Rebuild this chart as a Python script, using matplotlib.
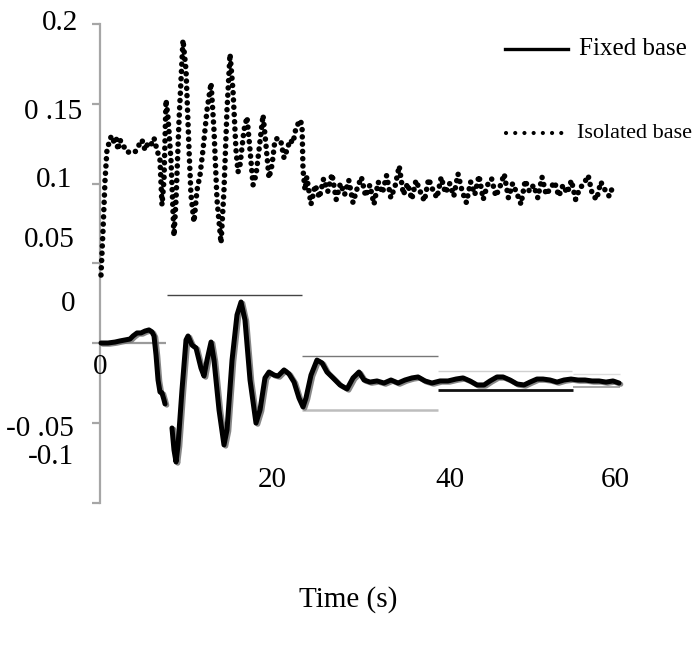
import numpy as np
import matplotlib
matplotlib.use("Agg")
import matplotlib.pyplot as plt
import matplotlib.patheffects as pe

# ---------------- data ----------------
# Isolated base (dotted) : time (s), value
iso_t_main = [0.0, 0.24, 0.48, 0.71, 0.95, 1.19, 1.43, 1.79, 2.02, 2.26, 2.62, 3.10, 3.57,
              4.05, 4.52, 4.88, 5.24, 5.60, 5.95, 6.31, 6.67, 7.02, 7.26, 7.50, 7.74, 7.98,
              8.33, 8.69, 8.93, 9.29, 9.76, 10.12, 10.48, 10.71, 11.07, 11.43, 11.79, 12.14,
              12.62, 13.10, 13.45, 13.81, 14.29, 14.64, 15.00, 15.36, 15.71, 16.07, 16.31,
              16.55, 17.02, 17.38, 17.74, 18.10, 18.45, 18.81, 19.29, 19.64, 20.00, 20.36,
              20.71, 21.07, 21.43, 21.79, 22.14, 22.50, 22.86, 23.21, 23.69, 23.93, 24.05, 24.29]
iso_v_main = [0.0426, 0.0708, 0.1022, 0.1210, 0.1254, 0.1292, 0.1260, 0.1292, 0.1210, 0.1273,
              0.1241, 0.1197, 0.1197, 0.1197, 0.1241, 0.1273, 0.1210, 0.1254, 0.1241, 0.1285,
              0.1210, 0.1147, 0.0865, 0.1022, 0.1524, 0.1411, 0.1147, 0.0671, 0.0897, 0.1398,
              0.1900, 0.1712, 0.1210, 0.0928, 0.0759, 0.0959, 0.1053, 0.1210, 0.1461, 0.1630,
              0.1335, 0.0897, 0.0627, 0.0959, 0.1461, 0.1812, 0.1586, 0.1210, 0.1072, 0.1116,
              0.1335, 0.1417, 0.1210, 0.0991, 0.1053, 0.1210, 0.1429, 0.1241, 0.1034, 0.1116,
              0.1273, 0.1285, 0.1260, 0.1160, 0.1210, 0.1273, 0.1254, 0.1348, 0.1398, 0.1367,
              0.1085, 0.0959]
iso_v_tail = [0.104, 0.087, 0.099, 0.091, 0.103, 0.095, 0.106, 0.090, 0.100, 0.093,
              0.102, 0.088, 0.097, 0.104, 0.092, 0.099, 0.087, 0.101, 0.094, 0.105,
              0.091, 0.098, 0.111, 0.093, 0.100, 0.090, 0.102, 0.095, 0.089, 0.103,
              0.096, 0.091, 0.104, 0.094, 0.100, 0.092, 0.106, 0.095, 0.088, 0.101,
              0.093, 0.105, 0.090, 0.099, 0.103, 0.092, 0.098, 0.106, 0.091, 0.100,
              0.094, 0.087, 0.102, 0.095, 0.099, 0.091, 0.104, 0.093, 0.097, 0.101,
              0.092, 0.099, 0.094, 0.102, 0.090, 0.097, 0.100, 0.105, 0.093, 0.090,
              0.101, 0.096, 0.092, 0.099]
iso_t_tail = list(np.linspace(24.5, 61.0, len(iso_v_tail)))

# Fixed base (solid) : time (s), value  (NaN = gap)
fix_t = [0.0, 0.83, 1.67, 2.26, 2.86, 3.45, 3.81, 4.29, 4.76, 5.24, 5.71, 6.07, 6.31, 6.55,
         6.79, 7.02, 7.26, 7.50, 7.62, 8.0,
         8.45, 8.69, 8.93, 9.17, 9.64, 10.12, 10.36, 10.83, 11.31, 11.90, 12.26, 12.62, 13.10,
         13.45, 14.05, 14.64, 15.00, 15.60, 16.19, 16.67, 17.14, 17.74, 18.45, 18.93, 19.52,
         20.00, 20.60, 21.07, 21.79, 22.38, 22.98, 23.57, 24.05, 24.40, 25.00, 25.71, 26.31,
         26.90, 27.62, 28.45, 29.29, 30.00, 30.71, 31.31, 32.02, 32.86, 33.69, 34.52, 35.36,
         36.19, 37.02, 37.74, 38.57, 39.40, 40.36, 41.31, 42.26, 43.10, 43.93, 44.76, 45.60,
         46.31, 47.14, 47.86, 48.69, 49.52, 50.36, 51.07, 51.90, 52.62, 53.45, 54.29, 55.12,
         55.95, 56.79, 57.62, 58.45, 59.29, 60.12, 60.95, 61.67]
fix_v = [0.0, 0.0, 0.0006, 0.0013, 0.0019, 0.0025, 0.0044, 0.0063, 0.0063, 0.0075, 0.0082,
         0.0069, 0.0044, -0.0075, -0.0232, -0.0307, -0.0313, -0.0357, -0.0382, np.nan,
         -0.0533, -0.0671, -0.0746, -0.0640, -0.0295, 0.0019, 0.0044, -0.0013, -0.0031,
         -0.0157, -0.0207, -0.0107, 0.0006, -0.0107, -0.0420, -0.0639, -0.0545, -0.0107,
         0.0176, 0.0257, 0.0144, -0.0232, -0.0502, -0.0420, -0.0219, -0.0182, -0.0201,
         -0.0207, -0.0169, -0.0194, -0.0245, -0.0345, -0.0401, -0.0345, -0.0201, -0.0107,
         -0.0125, -0.0182, -0.0219, -0.0263, -0.0288, -0.0219, -0.0182, -0.0232, -0.0245,
         -0.0238, -0.0251, -0.0232, -0.0251, -0.0232, -0.0219, -0.0213, -0.0238, -0.0251,
         -0.0238, -0.0238, -0.0226, -0.0219, -0.0238, -0.0263, -0.0263, -0.0238, -0.0213,
         -0.0213, -0.0232, -0.0257, -0.0263, -0.0245, -0.0226, -0.0226, -0.0232, -0.0245,
         -0.0232, -0.0226, -0.0232, -0.0232, -0.0238, -0.0238, -0.0245, -0.0238, -0.0251]

y_ticks = [0.2, 0.15, 0.1, 0.05, 0.0, -0.05, -0.1]
series_labels = ["Fixed base", "Isolated base"]

# stray frame lines of the source figure: (value, t_start, t_end, color, lw)
frame_lines = [
    (0.0301, 7.86, 23.93, "#444444", 1.0),
    (0.0, -0.12, 7.74, "#9a9a9a", 1.6),
    (-0.0082, 23.93, 40.12, "#777777", 1.0),
    (-0.0420, 23.93, 40.12, "#bdbdbd", 1.8),
    (-0.0176, 40.12, 56.07, "#d0d0d0", 1.0),
    (-0.0295, 40.12, 56.19, "#111111", 2.0),
    (-0.0194, 56.19, 61.79, "#dddddd", 1.0),
    (-0.0276, 56.19, 61.79, "#999999", 1.2),
]

# ---------------- figure ----------------
W, H = 695, 647
fig = plt.figure(figsize=(W / 100, H / 100), dpi=100)
ax = fig.add_axes([0, 0, 1, 1])
px_per_s = 8.4
t0_px = 101
px_per_unit = 1595
zero_px = 343
ax.set_xlim(-t0_px / px_per_s, (W - t0_px) / px_per_s)
ax.set_ylim((zero_px - H) / px_per_unit, zero_px / px_per_unit)

for s in ["top", "right", "bottom"]:
    ax.spines[s].set_visible(False)
ax.spines["left"].set_position(("data", -0.12))
ax.spines["left"].set_bounds(-0.1, 0.2)
ax.spines["left"].set_color("#a6a6a6")
ax.spines["left"].set_linewidth(1.6)
ax.set_xticks([])
ax.set_yticks(y_ticks)
ax.tick_params(axis="y", direction="out", length=6, width=1.6, color="#a6a6a6",
               labelleft=False)
ax.patch.set_alpha(0)

for v, a, b, c, lw in frame_lines:
    ax.hlines(v, a, b, colors=c, linewidth=lw, zorder=1)

# Isolated base dotted line
ax.plot(iso_t_main + iso_t_tail, iso_v_main + iso_v_tail, color="black", linewidth=4.0,
        linestyle=(0, (0.01, 1.3)), dash_capstyle="round", zorder=3)

# Fixed base solid line with grey fringe
ax.plot(fix_t, fix_v, color="black", linewidth=3.6, solid_capstyle="round",
        solid_joinstyle="round",
        path_effects=[pe.SimpleLineShadow(offset=(1.3, -0.9), shadow_color="#7a7a7a",
                                          alpha=0.9), pe.Normal()], zorder=4)

# ---------------- text ----------------
serif = "Liberation Serif"

def ftext(px, py, s, size, ha="center", va="center"):
    fig.text(px / W, 1 - py / H, s, fontsize=size, family=serif, ha=ha, va=va,
             color="black")

lab_size = 21
ftext(78, 23, "0.2", lab_size, ha="right")
ftext(82, 112, "0 .15", lab_size, ha="right")
ftext(72, 180, "0.1", lab_size, ha="right")
ftext(75, 240, "0.05", lab_size, ha="right")
ftext(68, 304, "0", lab_size)
ftext(100, 367, "0", lab_size)
ftext(74, 429, "-0 .05", lab_size, ha="right")
ftext(74, 457, "-0.1", lab_size, ha="right")
ftext(272, 480, "20", lab_size)
ftext(450, 480, "40", lab_size)
ftext(615, 480, "60", lab_size)
ftext(348, 600, "Time (s)", lab_size)

# legend
fig.add_artist(plt.Line2D([505 / W, 568 / W], [1 - 49 / H, 1 - 49 / H], color="black",
                          linewidth=2.4, transform=fig.transFigure))
fig.add_artist(plt.Line2D([506 / W, 570 / W], [1 - 133 / H, 1 - 133 / H], color="black",
                          linewidth=3.0, linestyle=(0, (0.01, 2.2)), dash_capstyle="round",
                          transform=fig.transFigure))
ftext(579, 49, series_labels[0], 18, ha="left")
ftext(577, 133, series_labels[1], 16, ha="left")

fig.savefig("out.png", dpi=100)
